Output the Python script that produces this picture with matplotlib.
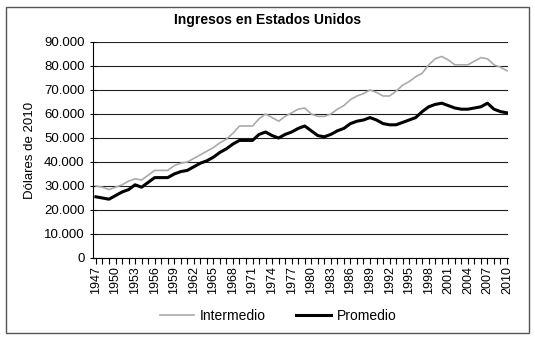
import matplotlib
matplotlib.use("Agg")
import matplotlib.pyplot as plt
from matplotlib.patches import Rectangle

years = list(range(1947, 2011))
intermedio = [30000, 29500, 28500, 29500, 30500, 32000, 33000, 32500, 34500, 36500,
              36500, 36500, 38500, 39500, 40000, 41500, 43000, 44500, 46000, 48000,
              49500, 52000, 55000, 55000, 55000, 58000, 60000, 58500, 57000, 59000,
              60500, 62000, 62500, 60000, 59000, 59000, 60000, 62000, 63500, 66000,
              67500, 68500, 70000, 69000, 67500, 67500, 69500, 72000, 73500, 75500,
              77000, 80500, 83000, 84000, 82500, 80500, 80500, 80500, 82000, 83500,
              83000, 80500, 79500, 78000]
promedio = [25500, 25000, 24500, 26000, 27500, 28500, 30500, 29500, 31500, 33500,
            33500, 33500, 35000, 36000, 36500, 38000, 39500, 40500, 42000, 44000,
            45500, 47500, 49000, 49000, 49000, 51500, 52500, 51000, 50000, 51500,
            52500, 54000, 55000, 53000, 51000, 50500, 51500, 53000, 54000, 56000,
            57000, 57500, 58500, 57500, 56000, 55500, 55500, 56500, 57500, 58500,
            61000, 63000, 64000, 64500, 63500, 62500, 62000, 62000, 62500, 63000,
            64500, 62000, 61000, 60500]
yticks = list(range(0, 90001, 10000))
ytick_labels = ["0", "10.000", "20.000", "30.000", "40.000", "50.000",
                "60.000", "70.000", "80.000", "90.000"]
xlabel_years = list(range(1947, 2011, 3))

plt.rcParams['font.family'] = ['Liberation Sans', 'DejaVu Sans']

fig = plt.figure(figsize=(5.35, 3.4), dpi=100)
fig.patches.append(Rectangle((6/535, 7/340), 523/535, 326/340, transform=fig.transFigure,
                             fill=False, edgecolor='#555555', linewidth=1.0))

ax = fig.add_axes([93/535, 1 - 258/340, 415/535, 216/340])
ax.plot(years, intermedio, color='#aaaaaa', linewidth=1.2, label='Intermedio')
ax.plot(years, promedio, color='black', linewidth=2.2, label='Promedio')

ax.set_xlim(1946.55, 2010.15)
ax.set_ylim(0, 90000)
ax.set_yticks(yticks)
ax.set_yticklabels(ytick_labels, fontsize=9.5)
ax.set_xticks(xlabel_years)
ax.set_xticklabels([str(y) for y in xlabel_years], rotation=90, fontsize=9)
ax.set_xticks(years, minor=True)
ax.tick_params(axis='x', which='both', length=4, direction='out', pad=2, width=0.8)
ax.tick_params(axis='y', length=4, direction='inout', width=0.8, pad=4)
ax.grid(axis='y', color='#222222', linewidth=0.8)
ax.set_axisbelow(True)
for s in ['top', 'right']:
    ax.spines[s].set_visible(False)
for s in ['left', 'bottom']:
    ax.spines[s].set_linewidth(0.8)
ax.set_ylabel('Dólares de 2010', fontsize=9.5, labelpad=6)

fig.text(0.5, 1 - 20/340, 'Ingresos en Estados Unidos', ha='center', va='center',
         fontsize=10, fontweight='bold')

fig.legend(loc='center', bbox_to_anchor=(278/535, 1 - 316/340), ncol=2, frameon=False,
           fontsize=10, handlelength=2.5, columnspacing=2.2, handletextpad=0.4)

fig.savefig('out.png', dpi=100)
